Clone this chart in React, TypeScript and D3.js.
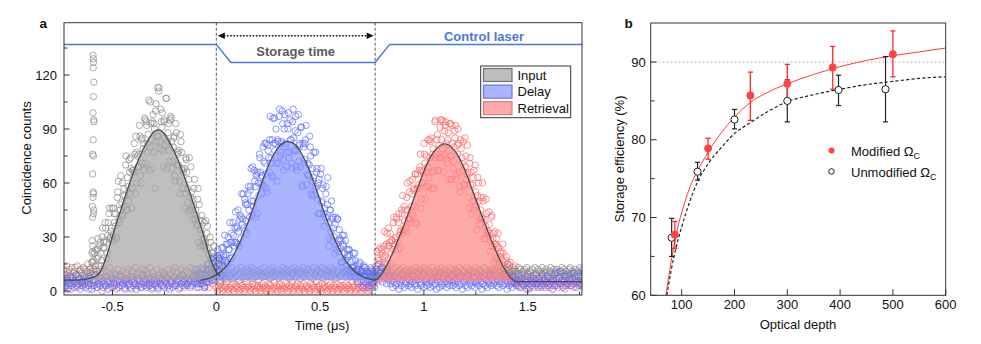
import * as d3 from 'd3';

// ---- panel a : photon counts, one bin every 5 ns starting at timeStart (us)
const timeStart = -0.74;
const timeStep = 0.005;

const inputCounts = [
  7, 12, 5, 9, 14, 6, 10, 4, 8, 13, 7, 11, 5, 9, 14, 8, 6, 12, 10, 5, 13, 9, 7, 11, 15, 8, 12, 10,
  16, 22, 12, 9, 23, 18, 29, 14, 27, 14, 30, 24, 24, 38, 27, 21,
  38, 46, 30, 35, 28, 46, 38, 43, 30, 55, 38, 48, 64, 49, 42, 57,
  53, 75, 45, 58, 73, 54, 68, 57, 67, 82, 54, 77, 75, 69, 92, 64,
  84, 71, 82, 96, 71, 92, 82, 106, 80, 93, 68, 98, 93, 57, 104, 86,
  86, 113, 79, 94, 99, 69, 94, 81, 107, 83, 93, 72, 97, 83, 72, 85,
  64, 93, 70, 76, 78, 54, 83, 68, 57, 68, 54, 73, 57, 44, 74, 52,
  55, 40, 47, 62, 45, 36, 51, 27, 39, 34, 42, 25, 29, 25, 39, 32,
  15, 20, 30, 18, 16, 21, 8, 18, 8, 20, 11, 15, 5, 8, 16, 11,
  9, 11, 7, 10, 12, 8, 9, 13, 7, 10, 11, 8, 12, 9, 6, 10, 13, 8, 11, 9,
  7, 12, 10, 8, 11, 9, 13, 7, 10, 12, 8, 9, 11, 6, 10, 12, 9, 8, 13, 10,
  8, 11, 9, 12, 7, 10, 13, 8, 11, 9, 10, 12, 7, 9, 11, 8, 13, 10, 9, 12,
  10, 8, 11, 7, 12, 9, 10, 13, 8, 11, 9, 12, 10, 7, 11, 9, 13, 8, 10, 12,
  9, 12, 8, 10, 11, 7, 13, 9, 10, 12, 8, 11, 9, 10, 13, 7, 12, 9, 11, 8,
  11, 9, 13, 8, 10, 12, 9, 7, 11, 10, 12, 8, 9, 13, 10, 11, 8, 12, 9, 10,
  12, 8, 10, 11, 9, 13, 7, 10, 12, 9, 11, 8, 10, 12, 9, 13, 11, 8, 10, 9,
  10, 13, 9, 11, 8, 12, 10, 9, 11, 7, 12, 10, 8, 13, 9, 11, 10, 12, 8, 9,
  11, 10, 12, 8, 9, 13, 10, 11, 7, 12, 9, 10, 13, 8, 11, 9, 12, 10, 8, 11,
  9, 12, 10, 8, 13, 11, 9, 10, 12, 8, 11, 9, 13, 10, 7, 12, 9, 11, 10, 8,
  13, 9, 11, 10, 8, 12, 9, 10, 11, 13, 8, 10, 12, 9, 11, 7, 10, 13, 9, 12,
  8, 10, 12, 9, 11, 10, 13, 8, 9, 12, 10, 11, 8, 13, 9, 10, 12, 11, 9, 10,
  11, 8, 13, 10, 9, 12, 10, 11, 8, 9, 13, 10, 12, 9, 11, 8, 10, 12, 9, 11,
  10, 12, 9, 11, 13, 8, 10, 9, 12, 11, 10, 8, 13, 9, 12, 10, 11, 9, 8, 12,
  9, 11, 10, 13, 8, 12, 9, 10, 11, 12, 8, 13, 10, 9, 11, 10, 12, 8, 9, 13,
  10, 9, 12, 11, 8, 10, 13, 9, 11, 10, 12, 8, 9, 11, 13, 10, 9, 12, 10, 11,
  12, 10, 8, 11, 9, 13, 10, 12, 9, 11, 8, 10, 12, 13, 9, 11, 10, 8, 12, 9,
  11, 10, 13, 9, 12, 8, 10, 11, 9,
];

const delayCounts = [
  4, 2, 6, 3, 7, 1, 5, 8, 3, 4, 6, 2, 5, 9, 3, 4, 7, 1, 5, 3,
  6, 4, 2, 8, 5, 3, 7, 4, 1, 6, 3, 5, 9, 2, 4, 6, 3, 7, 5, 2,
  4, 8, 3, 5, 1, 6, 4, 7, 2, 5, 3, 9, 4, 6, 2, 5, 8, 3, 4, 6,
  1, 5, 7, 3, 4, 2, 6, 8, 3, 5, 4, 1, 7, 3, 6, 4, 2, 9, 5, 3,
  6, 2, 4, 7, 3, 5, 1, 8, 4, 6, 3, 5, 2, 7, 4, 3, 6, 9, 2, 5,
  4, 7, 3, 1, 6, 5, 2, 8, 4, 3, 6, 5, 7, 2, 4, 9, 3, 5, 6, 4,
  3, 7, 5, 2, 6, 4, 8, 5,
  7, 10, 4, 2, 10, 6, 13, 4, 10, 2, 12, 8, 7, 15, 9, 6,
  15, 19, 10, 13, 8, 19, 15, 18, 8, 24, 14, 20, 31, 20, 16, 26,
  23, 38, 18, 27, 38, 25, 35, 27, 35, 45, 25, 42, 41, 37, 54, 33,
  49, 39, 48, 58, 41, 58, 50, 69, 50, 61, 41, 65, 66, 53, 74, 60,
  64, 80, 58, 71, 82, 55, 78, 66, 97, 74, 84, 63, 96, 82, 71, 84,
  71, 101, 77, 83, 93, 67, 98, 82, 77, 90, 74, 95, 84, 68, 101, 78,
  89, 69, 78, 98, 82, 69, 91, 58, 80, 73, 84, 59, 71, 64, 86, 75,
  53, 61, 77, 57, 58, 68, 43, 62, 43, 68, 50, 59, 36, 41, 58, 48,
  38, 29, 45, 50, 28, 35, 21, 41, 26, 40, 22, 29, 28, 16, 26, 31,
  17, 11, 23, 19, 23, 12, 16, 13, 21, 8, 17, 11, 5, 12, 15, 8,
  11, 2, 14, 9, 5, 11, 6, 10, 8, 3, 12, 4, 7, 9,
  12, 8, 15, 6, 10, 13, 5, 9, 11, 7, 4, 10, 6, 8,
  4, 6, 2, 5, 8, 3, 4, 7, 1, 5, 3, 6, 9, 2, 4, 5, 7, 3, 6, 4,
  2, 5, 8, 4, 3, 6, 1, 7, 5, 3, 4, 9, 2, 6, 5, 3, 7, 4, 2, 6,
  5, 3, 7, 4, 1, 6, 8, 2, 5, 4, 3, 7, 5, 9, 2, 4, 6, 3, 8, 5,
  3, 6, 4, 2, 7, 5, 3, 8, 4, 1, 6, 5, 3, 7, 2, 9, 4, 6, 3, 5,
  7, 2, 5, 4, 6, 3, 8, 5, 1, 4, 7, 3, 6, 2, 5, 4, 9, 3, 6, 4,
  5, 8, 3, 6, 2, 4, 7, 5, 3, 9, 4, 6, 1, 5, 3, 7, 4, 2, 8, 5,
  4, 3, 6, 9, 2, 5, 7, 4, 3, 6, 5, 1, 8, 4, 2, 6, 3, 5, 7, 4,
  6, 4, 2, 7, 5, 3, 9, 4, 6, 2, 5, 8, 3, 4, 7, 5, 1, 6, 3, 10,
  3, 5, 7, 4, 11, 6, 2, 5, 8, 3, 4, 6, 9, 5, 3, 7, 4, 10, 6, 2,
  5, 8, 4, 3, 6, 11, 5, 7, 4,
];

const retrievalCounts = [
  5, 9, 2, 11, 7, 3, 12, 6, 1, 8, 10, 4, 13, 6, 2, 9, 7, 11, 3, 5,
  8, 12, 4, 6, 10, 1, 7, 13, 5, 3, 9, 6, 11, 2, 8, 4, 12, 7, 0, 10,
  6, 3, 11, 8, 5, 13, 2, 9, 7, 4, 10, 6, 1, 12, 8, 3, 9, 5, 11, 7,
  2, 10, 6, 12, 4, 8, 1, 11, 7, 5, 13, 3, 9, 6, 10, 2, 8, 12, 4, 7,
  11, 5, 9, 3, 13, 7, 2, 10, 6, 8, 4, 12, 1, 9, 5, 11, 7, 3, 10, 6,
  8, 2, 12, 5, 9, 4, 11, 7, 13, 3, 6, 10, 1, 8, 12, 5, 9, 2, 7, 11,
  4, 10, 6, 13, 3, 8, 12, 5, 9, 2, 11, 7, 6, 10, 4, 12, 8, 3,
  9, 5, 11, 2, 7, 13, 4, 10, 6, 8,
  2, 0, 3, 1, 4, 2, 0, 1, 3, 2, 5, 1, 0, 2, 3, 1, 4, 0, 2, 3,
  1, 2, 0, 4, 1, 3, 2, 0, 1, 5, 2, 3, 1, 0, 2, 4, 1, 3, 0, 2,
  3, 1, 2, 0, 4, 2, 1, 3, 0, 2, 1, 4, 3, 0, 1, 2, 5, 1, 3, 0,
  2, 4, 1, 0, 3, 2, 1, 4, 2, 0, 3, 1, 2, 5, 0, 1, 3, 2, 4, 1,
  0, 3, 2, 1, 4, 0, 2, 3, 1, 2, 0, 4, 1, 3, 2, 0, 5, 1, 2, 3,
  1, 0, 4, 2, 3, 1, 2, 0, 3, 1, 4, 2, 0, 3, 1, 2, 4, 0, 1, 3,
  2, 1, 3, 0, 2, 4, 1, 3, 2, 0, 1, 5, 2, 3, 0, 1, 4, 2, 1, 3,
  0, 2, 3, 1, 4, 2, 0, 3, 1, 2, 5, 3, 4, 6,
  14, 22, 11, 17, 24, 10, 21, 15, 33, 20, 26, 15, 35, 27, 21, 28,
  23, 41, 26, 30, 40, 23, 43, 33, 34, 43, 32, 47, 45, 33, 60, 40,
  55, 40, 47, 62, 57, 47, 65, 37, 65, 59, 69, 46, 67, 60, 82, 71,
  58, 66, 84, 63, 74, 85, 57, 79, 67, 95, 76, 87, 67, 74, 95, 84,
  79, 66, 89, 94, 73, 84, 62, 93, 75, 92, 68, 80, 85, 62, 81, 90,
  66, 55, 79, 71, 83, 59, 69, 62, 81, 52, 71, 59, 43, 59, 67, 50,
  55, 34, 63, 50, 37, 52, 41, 50, 40, 29, 51, 33, 33, 37, 22, 41,
  25, 32, 26, 18, 29, 18, 24, 11, 21, 15, 26, 13, 12, 17, 8, 15,
  11, 16, 8, 5, 11, 7, 14, 5,
  5, 3, 8, 6, 2, 7, 4, 9, 5, 3, 6, 1, 8, 4, 7, 5, 2, 6, 9, 3,
  4, 7, 5, 2, 8, 6, 3, 10, 4, 5, 7, 2, 6, 8, 3, 5, 9, 4, 6, 2,
  7, 4, 5, 8, 3, 6, 1, 9, 5, 4, 7, 3, 6, 10, 2, 5, 8, 4, 6, 3,
  5, 7, 4, 8, 2, 6, 5,
];

// counts from the in-between half bins, only read over each pulse
const inputHalfStart = -0.5975;
const inputHalfBins = [
  11, 17, 21, 14, 11, 23, 19, 25, 21, 17, 35, 27, 28, 35, 18, 31,
  43, 29, 33, 46, 31, 43, 36, 29, 52, 61, 40, 45, 42, 60, 53, 47,
  70, 45, 63, 50, 66, 74, 46, 67, 66, 76, 86, 60, 69, 76, 86, 60,
  85, 79, 67, 95, 94, 77, 87, 67, 105, 84, 94, 77, 90, 100, 83, 113,
  111, 83, 101, 91, 78, 95, 85, 107, 68, 88, 78, 95, 96, 68, 80, 86,
  61, 88, 77, 70, 61, 87, 77, 67, 66, 46, 74, 66, 49, 62, 45, 69,
  45, 51, 57, 40, 42, 37, 57, 48, 25, 32, 39, 28, 38, 27, 23, 36,
  24, 12, 27, 21, 18, 25, 10, 13, 17, 12, 15, 6, 9, 15, 11, 7,
];
const delayHalfStart = -0.0975;
const delayHalfBins = [
  12, 4, 9, 6, 4, 9, 6, 12, 2, 9, 5, 11, 15, 5, 10, 12,
  6, 17, 12, 10, 11, 23, 18, 14, 20, 9, 24, 19, 17, 26, 15, 30,
  23, 27, 32, 19, 31, 27, 44, 36, 26, 33, 40, 29, 54, 40, 35, 51,
  48, 32, 54, 45, 56, 68, 42, 47, 67, 58, 64, 43, 60, 76, 66, 54,
  59, 72, 82, 65, 57, 81, 74, 84, 71, 64, 96, 82, 78, 90, 61, 83,
  97, 75, 82, 100, 73, 90, 80, 69, 93, 99, 77, 84, 71, 94, 85, 78,
  97, 67, 88, 72, 81, 91, 59, 82, 71, 82, 92, 65, 64, 70, 80, 54,
  68, 63, 53, 77, 66, 51, 60, 43, 65, 49, 57, 43, 46, 54, 41, 63,
  25, 45, 33, 40, 41, 30, 37, 23, 40, 28, 34, 24, 16, 31, 25, 21,
  28, 14, 20, 23, 20, 8, 13, 17, 11, 21, 8, 12, 14, 9, 16, 5,
  11, 8, 5, 13, 8, 10, 2, 5, 11, 8, 5, 10, 2, 7,
];
const retrievalHalfStart = 0.7725;
const retrievalHalfBins = [
  12, 18, 23, 15, 11, 23, 19, 25, 19, 15, 32, 25, 25, 32, 15, 28,
  38, 25, 29, 41, 27, 38, 31, 24, 45, 53, 34, 39, 35, 52, 45, 40,
  61, 38, 54, 42, 56, 65, 38, 57, 57, 67, 76, 51, 60, 66, 76, 51,
  75, 69, 58, 84, 83, 66, 76, 57, 94, 74, 84, 67, 81, 91, 74, 95,
  94, 75, 92, 82, 71, 88, 78, 93, 62, 82, 72, 89, 92, 64, 76, 82,
  58, 84, 74, 67, 59, 85, 75, 65, 66, 46, 74, 66, 50, 63, 45, 70,
  47, 53, 60, 41, 45, 40, 60, 52, 29, 36, 43, 31, 44, 32, 28, 42,
  29, 16, 33, 26, 25, 32, 15, 19, 22, 17, 21, 9, 12, 19, 15, 9,
  14, 9, 5, 11, 13, 6, 8, 4,
];

// stray column of input counts just before -0.59 us
const inputSpike: [number, number][] = [
  [-0.594, 131], [-0.592, 129], [-0.591, 127], [-0.593, 124], [-0.590, 116], [-0.592, 108],
  [-0.594, 99], [-0.591, 95], [-0.589, 94], [-0.593, 84], [-0.595, 76], [-0.592, 75],
  [-0.596, 65], [-0.593, 55], [-0.591, 54], [-0.594, 52], [-0.597, 47], [-0.590, 45],
  [-0.592, 43], [-0.596, 41], [-0.598, 28], [-0.595, 25], [-0.599, 21], [-0.594, 16],
];

// fitted pulse shapes (time us, counts)
const inputFit: [number, number][] = [
  [-0.74, 6], [-0.66, 6.2], [-0.62, 6.8], [-0.58, 8.3], [-0.56, 10.5], [-0.54, 15.5],
  [-0.52, 22.5], [-0.5, 30.5], [-0.48, 38], [-0.46, 45], [-0.42, 59], [-0.38, 71.5],
  [-0.34, 81.5], [-0.3, 88.5], [-0.28, 89.5], [-0.26, 88.5], [-0.22, 81.5], [-0.18, 71.5],
  [-0.14, 59], [-0.1, 45], [-0.08, 38], [-0.06, 30.5], [-0.04, 22.5], [-0.02, 15.5],
  [0, 10.5], [0.02, 8.3],
];
const delayFit: [number, number][] = [
  [-0.08, 6], [-0.055, 6.5], [-0.015, 8], [0.025, 11], [0.065, 16.5], [0.105, 25],
  [0.145, 36], [0.165, 42], [0.205, 55.5], [0.245, 68], [0.285, 77.5], [0.325, 82.4],
  [0.345, 83], [0.365, 82.4], [0.405, 77.5], [0.445, 68], [0.485, 55.5], [0.525, 42],
  [0.545, 36], [0.585, 25], [0.625, 16.5], [0.665, 11], [0.705, 8], [0.745, 6.5], [0.765, 6],
];
const retrievalFit: [number, number][] = [
  [0.765, 6], [0.78, 7], [0.8, 10], [0.82, 14], [0.86, 24], [0.9, 35.5], [0.92, 41.5],
  [0.96, 54], [1.0, 66.5], [1.04, 76], [1.08, 81], [1.1, 81.7], [1.12, 81], [1.16, 76],
  [1.2, 66.5], [1.24, 54], [1.28, 41.5], [1.3, 35.5], [1.34, 24], [1.38, 14], [1.4, 10],
  [1.42, 7], [1.44, 5.5], [1.46, 5.2], [1.78, 5.2],
];
const fitBase = { input: 6, delay: 6, retrieval: 5.2 };

const storageStart = 0;
const storageEnd = 0.765;
const controlHigh = 137;
const controlLow = 127;
const controlRamp = 0.07;

const countTicks = [0, 30, 60, 90, 120];
const countMinor = [15, 45, 75, 105, 135];
const timeTicks = [-0.5, 0, 0.5, 1, 1.5];
const timeMinor = [-0.25, 0.25, 0.75, 1.25, 1.75];
const legendLabels = ['Input', 'Delay', 'Retrieval'];

// ---- panel b : storage efficiency vs optical depth
const modDepth = [87, 150, 230, 300, 386, 500];
const modEff = [67.8, 78.9, 85.7, 87.2, 89.3, 91.0];
const modLow = [66.0, 77.5, 82.5, 84.8, 86.5, 88.1];
const modHigh = [69.5, 80.2, 88.7, 89.7, 92.0, 94.0];
const unmodDepth = [81, 130, 200, 300, 397, 486];
const unmodEff = [67.4, 75.9, 82.6, 85.0, 86.4, 86.5];
const unmodLow = [65.0, 74.8, 81.4, 82.3, 84.4, 82.3];
const unmodHigh = [69.9, 77.1, 83.9, 87.7, 88.3, 90.7];

const modTheory: [number, number][] = [
  [70, 60], [80, 64.3], [90, 68], [100, 70.6], [115, 73.8], [130, 76], [150, 78.4],
  [175, 80.9], [200, 82.9], [230, 84.8], [260, 86], [300, 87.2], [350, 88.4], [400, 89.4],
  [450, 90.2], [500, 90.8], [550, 91.3], [600, 91.8],
];
const unmodTheory: [number, number][] = [
  [72, 60], [80, 63.2], [90, 66.3], [100, 68.8], [115, 72], [130, 74.6], [150, 76.9],
  [175, 79], [200, 80.8], [230, 82.2], [260, 83.5], [300, 84.9], [350, 85.8], [400, 86.5],
  [450, 87.1], [500, 87.5], [550, 87.9], [600, 88.1],
];
const effTicks = [60, 70, 80, 90];
const effMinor = [65, 75, 85];
const depthTicks = [100, 200, 300, 400, 500, 600];
const effReference = 90;

const FONT = '"Liberation Sans", Arial, Helvetica, sans-serif';

const colors = {
  input: { dot: '#8c8c8c', fill: '#a4a4a4', swatch: '#bdbdbd', edge: '#707070' },
  delay: { dot: '#5f70ff', fill: '#8694ff', swatch: '#aab4ff', edge: '#6a78d8' },
  retrieval: { dot: '#ff6a6a', fill: '#ff8686', swatch: '#ffaaaa', edge: '#d88080' },
};

const toPoints = (counts: number[], start: number = timeStart) =>
  counts.map((c, i) => [start + i * timeStep, c] as [number, number]);

const App = () => {
  const A = { left: 64, right: 582, top: 22.7, bottom: 295 };
  const B = { left: 650.7, right: 945.7, top: 23, bottom: 295.3 };

  const x = d3.scaleLinear().domain([0, 1.5]).range([216.3, 527.7]);
  const y = d3.scaleLinear().domain([0, 120]).range([291, 75]);
  const bx = d3.scaleLinear().domain([100, 600]).range([681.7, 945.7]);
  const by = d3.scaleLinear().domain([60, 90]).range([295.3, 62]);

  const fitLine = d3.line<[number, number]>()
    .x((d) => x(d[0])).y((d) => y(d[1])).curve(d3.curveMonotoneX);
  const fitArea = (base: number) => d3.area<[number, number]>()
    .x((d) => x(d[0])).y0(y(base)).y1((d) => y(d[1])).curve(d3.curveMonotoneX);
  const theoryLine = d3.line<[number, number]>()
    .x((d) => bx(d[0])).y((d) => by(d[1])).curve(d3.curveMonotoneX);

  const tLeft = x.invert(A.left);
  const tRight = x.invert(A.right);
  const controlPath = d3.line<[number, number]>().x((d) => x(d[0])).y((d) => y(d[1]))([
    [tLeft, controlHigh], [storageStart, controlHigh], [storageStart + controlRamp, controlLow],
    [storageEnd, controlLow], [storageEnd + controlRamp, controlHigh], [tRight, controlHigh],
  ]);

  const dots = (pts: [number, number][], color: string, key: string) =>
    pts.map((p, i) => (
      <circle key={key + i} cx={x(p[0])} cy={y(p[1])} r={3.2}
        fill="none" stroke={color} strokeWidth={0.9} strokeOpacity={0.8} />
    ));

  const arrowY = 35.7;
  const ax0 = x(storageStart) + 1.5;
  const ax1 = x(storageEnd) - 1.5;

  const legendSeries = [colors.input, colors.delay, colors.retrieval];

  return (
    <div style={{ position: 'fixed', left: 0, top: 0 }}>
      <svg width={981} height={344} style={{ display: 'block', background: '#fff' }} fontFamily={FONT}>
        <defs>
          <clipPath id="clipA">
            <rect x={A.left} y={A.top} width={A.right - A.left} height={A.bottom - A.top} />
          </clipPath>
          <clipPath id="clipB">
            <rect x={B.left} y={B.top} width={B.right - B.left} height={B.bottom - B.top} />
          </clipPath>
        </defs>

        {/* ------------- panel a ------------- */}
        <g clipPath="url(#clipA)">
          {dots(toPoints(retrievalCounts), colors.retrieval.dot, 'r')}
          {dots(toPoints(retrievalHalfBins, retrievalHalfStart), colors.retrieval.dot, 'rh')}
          {dots(toPoints(inputCounts), colors.input.dot, 'i')}
          {dots(toPoints(inputHalfBins, inputHalfStart), colors.input.dot, 'ih')}
          {dots(inputSpike, colors.input.dot, 's')}
          {dots(toPoints(delayCounts), colors.delay.dot, 'd')}
          {dots(toPoints(delayHalfBins, delayHalfStart), colors.delay.dot, 'dh')}

          <path d={fitArea(fitBase.input)(inputFit) || ''} fill={colors.input.fill} fillOpacity={0.7} />
          <path d={fitArea(fitBase.delay)(delayFit) || ''} fill={colors.delay.fill} fillOpacity={0.7} />
          <path d={fitArea(fitBase.retrieval)(retrievalFit) || ''} fill={colors.retrieval.fill} fillOpacity={0.7} />

          <path d={fitLine(inputFit) || ''} fill="none" stroke="#4a4a4a" strokeWidth={1.3} />
          <path d={fitLine(delayFit) || ''} fill="none" stroke="#4a4a4a" strokeWidth={1.3} />
          <path d={fitLine(retrievalFit) || ''} fill="none" stroke="#4a4a4a" strokeWidth={1.3} />
        </g>

        {[storageStart, storageEnd].map((t) => (
          <line key={'v' + t} x1={x(t)} x2={x(t)} y1={A.top} y2={A.bottom}
            stroke="#444" strokeWidth={0.9} strokeDasharray="3,2" />
        ))}

        <path d={controlPath || ''} fill="none" stroke="#4b78d6" strokeWidth={1.5} />

        <line x1={ax0 + 6} x2={ax1 - 6} y1={arrowY} y2={arrowY}
          stroke="#111" strokeWidth={1.6} strokeDasharray="1.6,1.6" />
        <path d={`M${ax0},${arrowY}L${ax0 + 7},${arrowY - 3.3}L${ax0 + 7},${arrowY + 3.3}Z`} fill="#111" />
        <path d={`M${ax1},${arrowY}L${ax1 - 7},${arrowY - 3.3}L${ax1 - 7},${arrowY + 3.3}Z`} fill="#111" />

        <text x={(x(storageStart) + x(storageEnd)) / 2} y={55.5} textAnchor="middle"
          fontSize={13} fontWeight="bold" fill="#5a5a5a">Storage time</text>
        <text x={484} y={40.5} textAnchor="middle"
          fontSize={13} fontWeight="bold" fill="#4b78d6">Control laser</text>

        {/* axes a */}
        <rect x={A.left} y={A.top} width={A.right - A.left} height={A.bottom - A.top}
          fill="none" stroke="#333" strokeWidth={1} />
        {countTicks.map((v) => (
          <g key={'cy' + v}>
            <line x1={A.left} x2={A.left + 5.5} y1={y(v)} y2={y(v)} stroke="#333" />
            <text x={A.left - 7} y={y(v) + 4.6} textAnchor="end" fontSize={13} fill="#111">{v}</text>
          </g>
        ))}
        {countMinor.map((v) => (
          <line key={'cm' + v} x1={A.left} x2={A.left + 3.5} y1={y(v)} y2={y(v)} stroke="#333" />
        ))}
        {timeTicks.map((v) => (
          <g key={'tx' + v}>
            <line x1={x(v)} x2={x(v)} y1={A.bottom} y2={A.bottom - 5.5} stroke="#333" />
            <text x={x(v)} y={A.bottom + 15.5} textAnchor="middle" fontSize={13} fill="#111">{String(v)}</text>
          </g>
        ))}
        {timeMinor.filter((v) => x(v) < A.right).map((v) => (
          <line key={'tm' + v} x1={x(v)} x2={x(v)} y1={A.bottom} y2={A.bottom - 3.5} stroke="#333" />
        ))}
        <text x={(A.left + A.right) / 2 - 1} y={330} textAnchor="middle" fontSize={13} fill="#111">
          Time (μs)
        </text>
        <text transform={`translate(31,158) rotate(-90)`} textAnchor="middle" fontSize={13} fill="#111">
          Coincidence counts
        </text>
        <text x={39.5} y={28} fontSize={13.5} fontWeight="bold" fill="#111">a</text>

        {/* legend a */}
        <rect x={480.7} y={66} width={90} height={51.7} fill="#fff" stroke="#333" strokeWidth={1} />
        {legendLabels.map((label, i) => (
          <g key={label} transform={`translate(483.5, ${68.5 + i * 16.6})`}>
            <rect x={0} y={0} width={28.5} height={13} fill={legendSeries[i].swatch}
              stroke={legendSeries[i].edge} strokeWidth={1.2} />
            <text x={34} y={11} fontSize={13} fill="#111">{label}</text>
          </g>
        ))}

        {/* ------------- panel b ------------- */}
        <line x1={B.left} x2={B.right} y1={by(effReference)} y2={by(effReference)}
          stroke="#aaa" strokeWidth={1} strokeDasharray="1.5,2.5" />
        <path clipPath="url(#clipB)" d={theoryLine(modTheory) || ''} fill="none" stroke="#ff3b3b" strokeWidth={1} />
        <path clipPath="url(#clipB)" d={theoryLine(unmodTheory) || ''} fill="none" stroke="#222" strokeWidth={1.2} strokeDasharray="3.2,2.2" />

        {unmodDepth.map((d, i) => (
          <g key={'ue' + i} stroke="#222" strokeWidth={1.2}>
            <line x1={bx(d)} x2={bx(d)} y1={by(unmodLow[i])} y2={by(unmodHigh[i])} />
            <line x1={bx(d) - 2.6} x2={bx(d) + 2.6} y1={by(unmodLow[i])} y2={by(unmodLow[i])} />
            <line x1={bx(d) - 2.6} x2={bx(d) + 2.6} y1={by(unmodHigh[i])} y2={by(unmodHigh[i])} />
          </g>
        ))}
        {modDepth.map((d, i) => (
          <g key={'me' + i} stroke="#ff2a2a" strokeWidth={1.3}>
            <line x1={bx(d)} x2={bx(d)} y1={by(modLow[i])} y2={by(modHigh[i])} />
            <line x1={bx(d) - 2.6} x2={bx(d) + 2.6} y1={by(modLow[i])} y2={by(modLow[i])} />
            <line x1={bx(d) - 2.6} x2={bx(d) + 2.6} y1={by(modHigh[i])} y2={by(modHigh[i])} />
          </g>
        ))}
        {unmodDepth.map((d, i) => (
          <circle key={'u' + i} cx={bx(d)} cy={by(unmodEff[i])} r={3.6} fill="#fff" stroke="#222" strokeWidth={1} />
        ))}
        {modDepth.map((d, i) => (
          <circle key={'m' + i} cx={bx(d)} cy={by(modEff[i])} r={3.9} fill="#ff4444" />
        ))}

        {/* axes b */}
        <rect x={B.left} y={B.top} width={B.right - B.left} height={B.bottom - B.top}
          fill="none" stroke="#333" strokeWidth={1} />
        {effTicks.map((v) => (
          <g key={'ey' + v}>
            <line x1={B.left} x2={B.left + 6} y1={by(v)} y2={by(v)} stroke="#333" />
            <text x={B.left - 5} y={by(v) + 4.6} textAnchor="end" fontSize={13} fill="#111">{v}</text>
          </g>
        ))}
        {effMinor.map((v) => (
          <line key={'em' + v} x1={B.left} x2={B.left + 4} y1={by(v)} y2={by(v)} stroke="#333" />
        ))}
        {depthTicks.map((v) => (
          <g key={'dx' + v}>
            <line x1={bx(v)} x2={bx(v)} y1={B.bottom} y2={B.bottom - 6} stroke="#333" />
            <text x={bx(v)} y={B.bottom + 13.5} textAnchor="middle" fontSize={13} fill="#111">{v}</text>
          </g>
        ))}
        <text x={798} y={329} textAnchor="middle" fontSize={13} fill="#111">Optical depth</text>
        <text transform={`translate(624,159) rotate(-90)`} textAnchor="middle" fontSize={13} fill="#111">
          Storage efficiency (%)
        </text>
        <text x={624.5} y={27.5} fontSize={13.5} fontWeight="bold" fill="#111">b</text>

        {/* legend b */}
        <circle cx={831.5} cy={150.5} r={3} fill="#ff4444" />
        <text x={851} y={155.5} fontSize={13} fill="#111">
          Modified Ω<tspan fontSize={9} dy={3}>C</tspan>
        </text>
        <circle cx={831.5} cy={171.5} r={2.8} fill="#fff" stroke="#222" strokeWidth={1} />
        <text x={851} y={176.5} fontSize={13} fill="#111">
          Unmodified Ω<tspan fontSize={9} dy={3}>C</tspan>
        </text>
      </svg>
    </div>
  );
};

export default App;
